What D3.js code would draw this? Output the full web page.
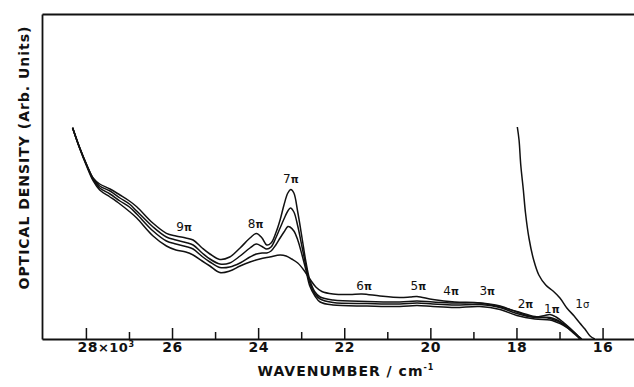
<!DOCTYPE html>
<html>
<head>
<meta charset="utf-8">
<script src="https://cdn.jsdelivr.net/npm/d3@7"></script>
<style>
  body { margin: 0; background: #fff; }
  svg { display: block; font-family: "DejaVu Sans", "Liberation Sans", sans-serif; }
  .axis path, .axis line { stroke: #111; }
  .axis text { fill: #111; }
</style>
</head>
<body>
<svg id="chart" width="634" height="387"></svg>
<script>
// wavenumber in units of 10^3 cm^-1, optical density in arbitrary units
var majorTicks = [28, 26, 24, 22, 20, 18, 16]
var minorTicks = [27, 25, 23, 21, 19, 17]

var curve1 = [
  [28.31, 211.3], [28.14, 190.7], [27.98, 174], [27.83, 160.7], [27.68, 155],
  [27.44, 150], [27.21, 144], [26.99, 138], [26.82, 132.3], [26.44, 115.7],
  [26.13, 105.7], [25.91, 103], [25.68, 101], [25.51, 99], [25.30, 91],
  [25.12, 85], [24.89, 79.5], [24.66, 82], [24.42, 91], [24.19, 101],
  [24.04, 105.5], [23.91, 101], [23.80, 94], [23.70, 96], [23.59, 106],
  [23.49, 119], [23.40, 134], [23.31, 146], [23.24, 149.5], [23.17, 146],
  [23.08, 127], [22.98, 101], [22.89, 77], [22.80, 59], [22.68, 47],
  [22.56, 42], [22.26, 39], [21.47, 37.5], [20.71, 37], [20.31, 38],
  [19.94, 37], [19.43, 36], [18.85, 36], [18.38, 33], [17.99, 27],
  [17.57, 22], [17.34, 23.5], [17.22, 24.5], [17.08, 22], [16.92, 17],
  [16.76, 11], [16.57, 3], [16.48, 0]
]
var curve2 = [
  [28.31, 211.3], [28.14, 190.7], [27.98, 174], [27.83, 160.5], [27.68, 153],
  [27.44, 148], [27.21, 141], [26.99, 135], [26.82, 128], [26.44, 112],
  [26.13, 102], [25.91, 99], [25.68, 96.5], [25.51, 94], [25.30, 86],
  [25.12, 80], [24.89, 75], [24.66, 76], [24.42, 83], [24.19, 91],
  [24.04, 95], [23.91, 92.5], [23.80, 90], [23.70, 92], [23.59, 101],
  [23.49, 111], [23.40, 120], [23.31, 128], [23.25, 131], [23.17, 127],
  [23.08, 113], [22.98, 92], [22.89, 73], [22.80, 56], [22.68, 45],
  [22.56, 40], [22.26, 36.5], [21.47, 35.5], [20.71, 35], [20.31, 36],
  [19.94, 35], [19.43, 34], [18.85, 34.5], [18.38, 31.5], [17.99, 25.5],
  [17.57, 21.5], [17.22, 21.5], [17.08, 19.5], [16.92, 15.5], [16.76, 10.5],
  [16.57, 3], [16.50, 0]
]
var curve3 = [
  [28.31, 211.3], [28.14, 190.5], [27.98, 173.5], [27.83, 159.5], [27.68, 151],
  [27.44, 145], [27.21, 138], [26.99, 132], [26.82, 125], [26.44, 108],
  [26.13, 98], [25.91, 95], [25.68, 92.5], [25.51, 90], [25.30, 82.5],
  [25.12, 77], [24.89, 71.5], [24.66, 72], [24.42, 76], [24.19, 82],
  [24.04, 85], [23.91, 86], [23.80, 86], [23.70, 88], [23.59, 94],
  [23.49, 101], [23.40, 107], [23.31, 112.5], [23.26, 112], [23.17, 108],
  [23.08, 99], [22.98, 84], [22.89, 69], [22.80, 53], [22.68, 43],
  [22.56, 37], [22.26, 34], [21.47, 33], [20.71, 32.5], [20.31, 33.5],
  [19.94, 32.5], [19.43, 31.5], [18.85, 32.5], [18.38, 29.5], [17.99, 23.5],
  [17.57, 20], [17.22, 19], [17.08, 17], [16.92, 14], [16.76, 9.5],
  [16.57, 2.5], [16.53, 0]
]
var curve4 = [
  [28.31, 211.3], [28.14, 190], [27.98, 172.5], [27.83, 158], [27.68, 149],
  [27.44, 142], [27.21, 135], [26.99, 127.5], [26.82, 121], [26.44, 103],
  [26.13, 93], [25.91, 89], [25.68, 87], [25.51, 84], [25.30, 78],
  [25.12, 73], [24.89, 66.5], [24.66, 68], [24.42, 73], [24.19, 77],
  [23.96, 80], [23.73, 82], [23.49, 84], [23.35, 83], [23.22, 80],
  [23.08, 76], [22.94, 69], [22.80, 60], [22.66, 52], [22.52, 47.5],
  [22.26, 45], [21.87, 44.5], [21.59, 45], [21.17, 43], [20.71, 41.5],
  [20.47, 42], [20.31, 42.5], [19.94, 39.5], [19.43, 37], [18.85, 36],
  [18.38, 32], [17.99, 27.5], [17.57, 22.5], [17.22, 20.5], [16.92, 15],
  [16.76, 9], [16.57, 2], [16.53, 0]
]
var curveSigma = [
  [17.98, 212], [17.94, 199], [17.90, 174], [17.84, 149], [17.79, 126],
  [17.71, 101], [17.60, 79], [17.48, 64], [17.32, 54], [17.15, 48],
  [16.99, 41], [16.83, 31], [16.66, 23], [16.53, 16], [16.41, 10],
  [16.29, 3], [16.18, 0]
]

var bandNames = ['9', '8', '7', '6', '5', '4', '3', '2', '1', '1']
var bandSymbols = ['π', 'π', 'π', 'π', 'π', 'π', 'π', 'π', 'π', 'σ']
var bandWavenumbers = [25.72, 24.06, 23.24, 21.54, 20.28, 19.52, 18.68, 17.79, 17.18, 16.47]
var bandHeights = [112, 115.5, 160.5, 53, 53, 48, 48, 35, 30, 35]

var svg = d3.select('#chart')

var x = d3.scaleLinear().domain([29.02, 15.27]).range([42, 634])
var y = d3.scaleLinear().domain([0, 325]).range([339, 14])

// curves
var line = d3.line()
  .x(d => x(d[0]))
  .y(d => y(d[1]))
  .curve(d3.curveCatmullRom.alpha(0.5))

svg.append('g')
  .selectAll('path')
  .data([curve4, curve3, curve2, curve1, curveSigma])
  .enter()
  .append('path')
  .attr('d', line)
  .attr('fill', 'none')
  .attr('stroke', '#111')
  .attr('stroke-width', 1.5)
  .attr('stroke-linejoin', 'round')

// frame: top and left lines
svg.append('g')
  .attr('class', 'axis')
  .attr('transform', 'translate(0,14)')
  .call(d3.axisTop(x).tickValues([]).tickSizeOuter(0))
  .select('.domain').attr('stroke-width', 1.8)

svg.append('g')
  .attr('class', 'axis')
  .attr('transform', 'translate(42,0)')
  .call(d3.axisLeft(y).tickValues([]).tickSizeOuter(0))
  .select('.domain').attr('stroke-width', 1.8)

// minor ticks
svg.append('g')
  .attr('class', 'axis')
  .attr('transform', 'translate(0,339)')
  .call(d3.axisBottom(x).tickValues(minorTicks).tickSize(-7).tickFormat(''))
  .call(g => g.select('.domain').remove())
  .selectAll('line').attr('stroke-width', 1.5)

// bottom axis with major ticks
var xAxis = svg.append('g')
  .attr('class', 'axis')
  .attr('transform', 'translate(0,339)')
  .call(d3.axisBottom(x).tickValues(majorTicks).tickSize(-11).tickSizeOuter(0).tickPadding(3).tickFormat(d3.format('d')))

xAxis.select('.domain').attr('stroke-width', 1.8)
xAxis.selectAll('line').attr('stroke-width', 1.5)
xAxis.selectAll('text')
  .attr('font-size', 14)
  .attr('font-weight', 'bold')
  .attr('letter-spacing', 0.5)
  .attr('font-family', '"DejaVu Sans", sans-serif')

// "28 x 10^3" on the first tick
var first = xAxis.selectAll('.tick').filter(d => d === 28).select('text')
first.attr('text-anchor', 'start').attr('x', -9)
first.append('tspan').text('×10').attr('font-size', 13)
first.append('tspan').text('3').attr('font-size', 8).attr('dy', '-0.6em')

// axis titles
var xTitle = svg.append('text')
  .attr('x', 346)
  .attr('y', 376)
  .attr('text-anchor', 'middle')
  .attr('font-size', 14)
  .attr('font-weight', 'bold')
  .attr('letter-spacing', 1)
  .attr('fill', '#111')
xTitle.append('tspan').text('WAVENUMBER / cm')
xTitle.append('tspan').text('-1').attr('font-size', 8).attr('dy', '-0.8em')

svg.append('text')
  .attr('transform', 'translate(29,158) rotate(-90)')
  .attr('text-anchor', 'middle')
  .attr('font-size', 14)
  .attr('font-weight', 'bold')
  .attr('textLength', 263)
  .attr('lengthAdjust', 'spacing')
  .attr('fill', '#111')
  .text('OPTICAL DENSITY (Arb. Units)')

// band labels
var labels = svg.append('g')
  .selectAll('text')
  .data(bandNames)
  .enter()
  .append('text')
  .attr('x', (d, i) => x(bandWavenumbers[i]))
  .attr('y', (d, i) => y(bandHeights[i]))
  .attr('dy', '0.35em')
  .attr('text-anchor', 'middle')
  .attr('font-size', 12)
  .attr('fill', '#111')
  .text(d => d)

labels.append('tspan')
  .text((d, i) => bandSymbols[i])
  .attr('font-size', 10)
  .attr('font-weight', (d, i) => bandSymbols[i] === 'π' ? 'bold' : 'normal')
</script>
</body>
</html>
